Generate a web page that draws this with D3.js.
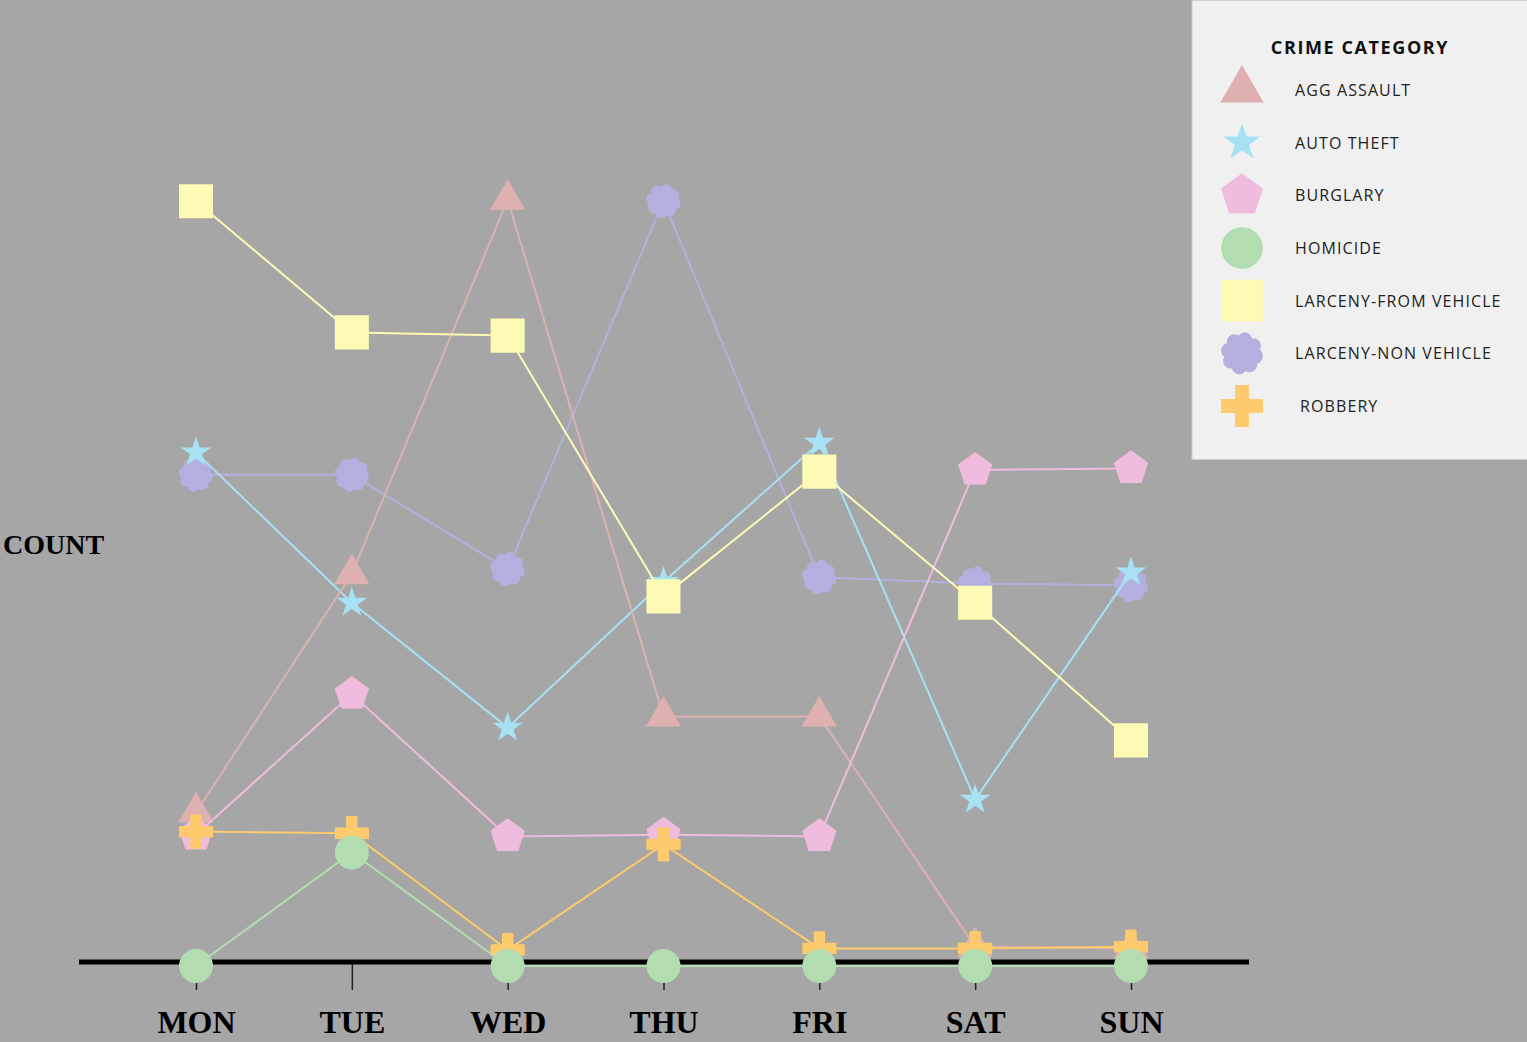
<!DOCTYPE html>
<html>
<head>
<meta charset="utf-8">
<script src="https://cdn.jsdelivr.net/npm/d3@7"></script>
<style>
  html, body { margin: 0; padding: 0; background: #a6a6a6; }
  svg { display: block; }
</style>
</head>
<body>
<div id="chart"></div>
<script>
// Days on the x axis
const days = ["MON", "TUE", "WED", "THU", "FRI", "SAT", "SUN"];

// Counts per day (no y ticks, so units are estimated)
const aggAssault = [9.6, 24.5, 47.9, 15.6, 15.6, 1.2, 1.1];
const autoTheft = [32.1, 22.7, 14.9, 24.0, 32.7, 10.4, 24.6];
const burglary = [8.2, 17.0, 8.1, 8.2, 8.1, 31.0, 31.1];
const homicide = [0, 7.1, 0, 0, 0, 0, 0];
const larcenyFromVehicle = [47.8, 39.6, 39.4, 23.1, 30.9, 22.7, 14.1];
const larcenyNonVehicle = [30.7, 30.7, 24.8, 47.8, 24.3, 23.9, 23.8];
const robbery = [8.4, 8.3, 1.0, 7.6, 1.1, 1.1, 1.2];

const categories = ["AGG ASSAULT", "AUTO THEFT", "BURGLARY", "HOMICIDE",
  "LARCENY-FROM VEHICLE", "LARCENY-NON VEHICLE", "ROBBERY"];

// custom symbol shapes
const symbolPentagon = {
  draw(ctx, size) {
    const r = Math.sqrt(size) / 2;
    for (let i = 0; i < 5; i++) {
      const a = -Math.PI / 2 + i * 2 * Math.PI / 5;
      if (i === 0) ctx.moveTo(r * Math.cos(a), r * Math.sin(a));
      else ctx.lineTo(r * Math.cos(a), r * Math.sin(a));
    }
    ctx.closePath();
  }
};
const symbolCloud = {
  draw(ctx, size) {
    const R = Math.sqrt(size) / 2;
    const c = R * 0.68;
    ctx.moveTo(c, 0);
    ctx.arc(0, 0, c, 0, 2 * Math.PI);
    const n = 8, br = R * 0.36, d = R * 0.64;
    for (let i = 0; i < n; i++) {
      const a = i * 2 * Math.PI / n + 0.2;
      const cx = d * Math.cos(a), cy = d * Math.sin(a);
      ctx.moveTo(cx + br, cy);
      ctx.arc(cx, cy, br, 0, 2 * Math.PI);
    }
  }
};

// style for each category
const styles = {
  "AGG ASSAULT":          { color: "#deb0b0", type: d3.symbolTriangle, size: 540 },
  "AUTO THEFT":           { color: "#a6e2f4", type: d3.symbolStar, size: 290 },
  "BURGLARY":             { color: "#f0bcde", type: symbolPentagon, size: 1300 },
  "HOMICIDE":             { color: "#b2ddb0", type: d3.symbolCircle, size: 910 },
  "LARCENY-FROM VEHICLE": { color: "#fdfab6", type: d3.symbolSquare, size: 1160 },
  "LARCENY-NON VEHICLE":  { color: "#b3b0e0", type: symbolCloud, size: 1200 },
  "ROBBERY":              { color: "#fdcb6e", type: d3.symbolCross, size: 650 }
};

const seriesValues = {
  "AGG ASSAULT": aggAssault,
  "AUTO THEFT": autoTheft,
  "BURGLARY": burglary,
  "HOMICIDE": homicide,
  "LARCENY-FROM VEHICLE": larcenyFromVehicle,
  "LARCENY-NON VEHICLE": larcenyNonVehicle,
  "ROBBERY": robbery
};

// draw order (which marks end up on top)
const drawOrder = ["LARCENY-NON VEHICLE", "AUTO THEFT", "AGG ASSAULT", "BURGLARY",
  "LARCENY-FROM VEHICLE", "ROBBERY", "HOMICIDE"];

const width = 1527, height = 1042;

const svg = d3.select("#chart").append("svg")
  .attr("width", width)
  .attr("height", height);

svg.append("rect")
  .attr("width", width)
  .attr("height", height)
  .attr("fill", "#a6a6a6");

const x = d3.scalePoint().domain(days).range([196, 1131]);
const y = d3.scaleLinear().domain([0, 48]).range([966, 198]);

// axis
const axisY = 962;
const axis = svg.append("g")
  .attr("transform", `translate(0,${axisY})`)
  .call(d3.axisBottom(x).tickSize(28).tickSizeOuter(0));
axis.select(".domain").remove();
axis.selectAll(".tick line").attr("stroke", "#222").attr("stroke-width", 1.5);
axis.selectAll(".tick text")
  .attr("y", 71)
  .attr("dy", 0)
  .attr("fill", "#000")
  .style("font-family", "'Liberation Serif', 'DejaVu Serif', serif")
  .style("font-weight", "bold")
  .style("font-size", "32px");

svg.append("line")
  .attr("x1", 79).attr("x2", 1249)
  .attr("y1", axisY).attr("y2", axisY)
  .attr("stroke", "#000")
  .attr("stroke-width", 5);

svg.append("text")
  .attr("x", 3)
  .attr("y", 554)
  .text("COUNT")
  .style("font-family", "'Liberation Serif', 'DejaVu Serif', serif")
  .style("font-weight", "bold")
  .style("font-size", "28px")
  .attr("fill", "#000");

// series
const line = d3.line()
  .x((d, i) => x(days[i]))
  .y(d => y(d));

drawOrder.forEach(name => {
  const st = styles[name];
  const vals = seriesValues[name];
  const g = svg.append("g");
  g.append("path")
    .datum(vals)
    .attr("fill", "none")
    .attr("stroke", st.color)
    .attr("stroke-width", 2)
    .attr("d", line);
  g.selectAll("path.mark")
    .data(vals)
    .join("path")
    .attr("class", "mark")
    .attr("transform", (d, i) => `translate(${x(days[i])},${y(d)})`)
    .attr("fill", st.color)
    .attr("d", d3.symbol().type(st.type).size(st.size));
});

// legend
const legend = svg.append("g");
legend.append("rect")
  .attr("x", 1192).attr("y", 0.5)
  .attr("width", 340).attr("height", 459)
  .attr("fill", "#f0f0f0")
  .attr("stroke", "#cfcfcf")
  .attr("stroke-width", 1);

legend.append("text")
  .attr("x", 1360)
  .attr("y", 54)
  .attr("text-anchor", "middle")
  .text("CRIME CATEGORY")
  .style("font-family", "'Open Sans', 'DejaVu Sans', sans-serif")
  .style("font-weight", "bold")
  .style("font-size", "18px")
  .style("letter-spacing", "1.6px")
  .attr("fill", "#111");

const ly = d3.scalePoint().domain(categories).range([90, 406]);

const items = legend.selectAll("g.item")
  .data(categories)
  .join("g")
  .attr("class", "item")
  .attr("transform", d => `translate(0,${ly(d)})`);

items.append("path")
  .attr("transform", "translate(1242,0)")
  .attr("fill", d => styles[d].color)
  .attr("d", d => d3.symbol().type(styles[d].type).size(styles[d].size * 1.5)());

items.append("text")
  .attr("x", d => d === "ROBBERY" ? 1300 : 1295)
  .attr("y", 6)
  .text(d => d)
  .style("font-family", "'Open Sans', 'DejaVu Sans', sans-serif")
  .style("font-size", "16px")
  .style("letter-spacing", "1.1px")
  .attr("fill", "#222");
</script>
</body>
</html>
